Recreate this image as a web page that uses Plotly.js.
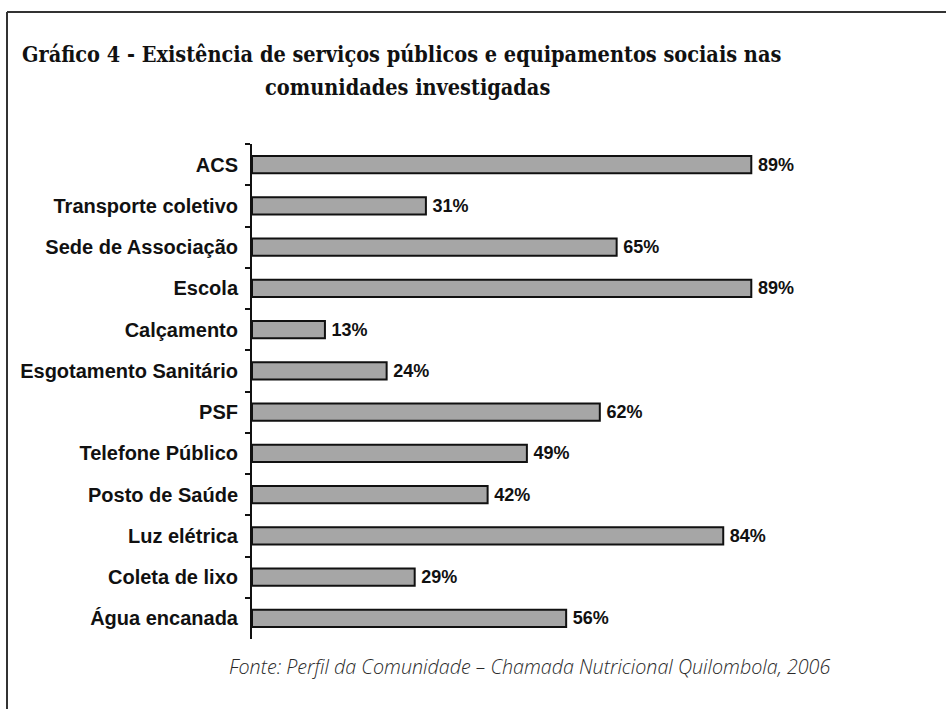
<!DOCTYPE html>
<html>
<head>
<meta charset="utf-8">
<script src="https://cdn.plot.ly/plotly-3.0.1.min.js"></script>
<style>
html,body{margin:0;padding:0;background:#fff;}
#chart{width:946px;height:709px;}
</style>
</head>
<body>
<div id="chart"></div>
<script>
const categories = ["ACS","Transporte coletivo","Sede de Associação","Escola","Calçamento","Esgotamento Sanitário","PSF","Telefone Público","Posto de Saúde","Luz elétrica","Coleta de lixo","Água encanada"];
const values = [89,31,65,89,13,24,62,49,42,84,29,56];
const titleLine1 = "Gráfico 4 - Existência de serviços públicos e equipamentos sociais nas";
const titleLine2 = "comunidades investigadas";
const sourceText = "Fonte: Perfil da Comunidade – Chamada Nutricional Quilombola, 2006";

const W = 946, H = 709;
const L = 252, R = 133, T = 144, B = 70;
const pw = W - L - R, ph = H - T - B;
const px = x => (x - L) / pw;
const py = y => (H - B - y) / ph;

const trace = {
  type: 'bar',
  orientation: 'h',
  x: values,
  y: categories,
  marker: {color: '#a6a6a6', line: {color: '#111', width: 2}},
  text: values.map(v => v + '%'),
  texttemplate: '\u2009%{text}',
  textposition: 'outside',
  constraintext: 'none',
  textfont: {family: 'Liberation Sans, Arial, sans-serif', size: 18, color: '#111', weight: 700},
  cliponaxis: false,
  hoverinfo: 'none'
};

const titleFont = {family: 'DejaVu Serif Condensed, DejaVu Serif, serif', size: 21.5, color: '#111', weight: 700};

const layout = {
  width: W, height: H,
  margin: {l: L, r: R, t: T, b: B, pad: 0},
  paper_bgcolor: '#fff', plot_bgcolor: '#fff',
  showlegend: false,
  bargap: 0.58,
  xaxis: {range: [0, 100], visible: false, fixedrange: true},
  yaxis: {
    type: 'category', autorange: 'reversed',
    showline: true, linecolor: '#111', linewidth: 2,
    ticks: 'outside', ticklen: 5, tickwidth: 2, tickcolor: '#111',
    tickson: 'boundaries', ticklabelstandoff: 8,
    showgrid: false, zeroline: false,
    tickfont: {family: 'Liberation Sans, Arial, sans-serif', size: 20, color: '#111', weight: 700}
  },
  shapes: [
    {type: 'line', xref: 'paper', yref: 'paper', x0: px(7), x1: px(7), y0: py(12), y1: py(709), line: {color: '#333', width: 2}},
    {type: 'line', xref: 'paper', yref: 'paper', x0: px(7), x1: px(946), y0: py(12), y1: py(12), line: {color: '#333', width: 2}}
  ],
  annotations: [
    {text: titleLine1, xref: 'paper', yref: 'paper', x: px(20), y: py(55), xanchor: 'left', yanchor: 'middle', showarrow: false, font: titleFont},
    {text: titleLine2, xref: 'paper', yref: 'paper', x: px(263), y: py(88), xanchor: 'left', yanchor: 'middle', showarrow: false, font: titleFont},
    {text: sourceText, xref: 'paper', yref: 'paper', x: px(227), y: py(666), xanchor: 'left', yanchor: 'middle', showarrow: false,
     font: {family: 'Open Sans, sans-serif', size: 19.7, color: '#2a2a2a', style: 'italic', weight: 300}}
  ]
};

Plotly.newPlot('chart', [trace], layout, {displayModeBar: false, staticPlot: true});
</script>
</body>
</html>
